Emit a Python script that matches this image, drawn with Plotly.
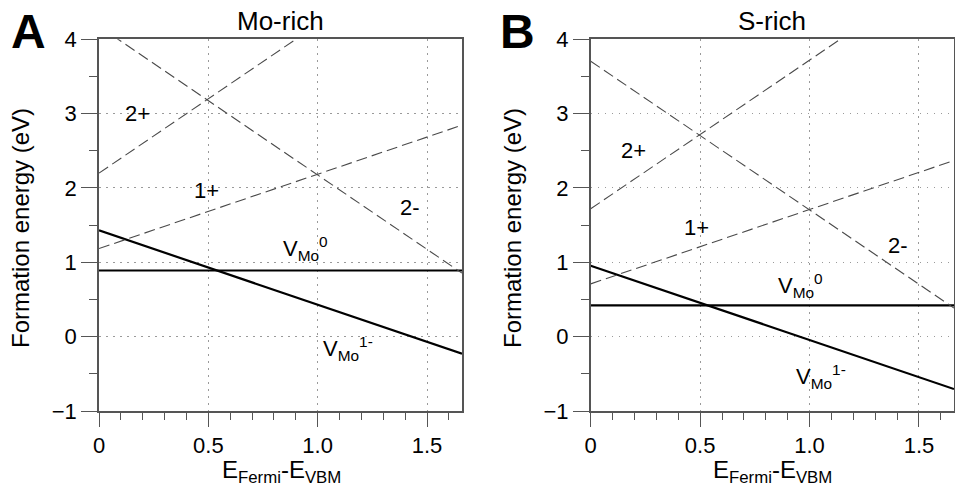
import plotly.graph_objects as go

# Fermi level range (band gap) and defect charge states
band_gap = 1.66
charges = [0, -1, 1, 2, -2]
is_main = [True, True, False, False, False]

# Formation energy at E_Fermi = E_VBM for each charge state (eV)
e0_mo_rich = [0.89, 1.43, 1.185, 2.20, 4.175]
e0_s_rich = [0.42, 0.955, 0.71, 1.72, 3.705]

panel_titles = ["Mo-rich", "S-rich"]
panel_letters = ["A", "B"]

x_tickvals = [0, 0.5, 1.0, 1.5]
x_ticktext = ["0", "0.5", "1.0", "1.5"]
y_tickvals = [-1, 0, 1, 2, 3, 4]
y_ticktext = ["\u22121", "0", "1", "2", "3", "4"]

# Charge-state labels: (text, x, y) in data units for each panel
labels_mo = [("2+", 0.176, 3.0), ("1+", 0.493, 1.96), ("2-", 1.424, 1.737),
             ("V<sub>Mo</sub><sup>0</sup>", 0.943, 1.19),
             ("V<sub>Mo</sub><sup>1-</sup>", 1.14, -0.157)]
labels_s = [("2+", 0.194, 2.50), ("1+", 0.485, 1.468), ("2-", 1.406, 1.226),
            ("V<sub>Mo</sub><sup>0</sup>", 0.957, 0.684),
            ("V<sub>Mo</sub><sup>1-</sup>", 1.05, -0.535)]

FONT = "Liberation Sans, Arial, Helvetica, sans-serif"
W, H = 955, 489

fig = go.Figure()

x_dom = [[99 / W, 462 / W], [590.7 / W, 954 / W]]
y_dom = [1 - 411 / H, 1 - 39.3 / H]

for p, (e0s, labels) in enumerate([(e0_mo_rich, labels_mo), (e0_s_rich, labels_s)]):
    xa = "x" if p == 0 else "x2"
    ya = "y" if p == 0 else "y2"
    for q, e0, main in zip(charges, e0s, is_main):
        xs = [0, band_gap]
        ys = [e0, e0 + q * band_gap]
        fig.add_trace(go.Scatter(
            x=xs, y=ys, mode="lines", xaxis=xa, yaxis=ya, showlegend=False,
            hoverinfo="skip",
            line=dict(color="black" if main else "#4a4a4a",
                      width=2.2 if main else 1.1,
                      dash="solid" if main else "11px,5px"),
        ))
    for text, lx, ly in labels:
        fig.add_annotation(text=text, x=lx, y=ly, xref=xa, yref=ya,
                           showarrow=False, font=dict(size=22, color="black"),
                           xanchor="center", yanchor="middle")

axis_common = dict(
    showline=True, linecolor="#555555", linewidth=1.5, mirror=True,
    zeroline=False, showgrid=True, gridcolor="#9a9a9a", gridwidth=1,
    griddash="1.5px,5.5px", ticks="outside", tickcolor="#555555",
    tickwidth=1.3, tickfont=dict(size=22, color="black", family=FONT),
    automargin=False,
)

for p in range(2):
    sfx = "" if p == 0 else "2"
    fig.update_layout(**{
        "xaxis" + sfx: dict(
            axis_common, domain=x_dom[p], range=[0, band_gap],
            tickvals=x_tickvals, ticktext=x_ticktext, ticklen=14,
            minor=dict(dtick=0.1, tick0=0, ticklen=7, ticks="outside",
                       tickcolor="#555555", tickwidth=1.3, showgrid=False),
            anchor="y" + sfx,
        ),
        "yaxis" + sfx: dict(
            axis_common, domain=y_dom, range=[-1, 4],
            tickvals=y_tickvals, ticktext=y_ticktext, ticklen=16,
            minor=dict(dtick=0.5, tick0=0, ticklen=8, ticks="outside",
                       tickcolor="#555555", tickwidth=1.3, showgrid=False),
            anchor="x" + sfx,
        ),
    })

# Panel titles, letters and axis titles
title_x = [280 / W, 772 / W]
letter_x = [28 / W, 517 / W]
ytitle_x = [20 / W, 512 / W]
xtitle_x = [281 / W, 772.5 / W]
for p in range(2):
    fig.add_annotation(text=panel_titles[p], x=title_x[p], y=1 - 20.5 / H,
                       xref="paper", yref="paper", showarrow=False,
                       font=dict(size=26, color="black"),
                       xanchor="center", yanchor="middle")
    fig.add_annotation(text="<b>" + panel_letters[p] + "</b>", x=letter_x[p],
                       y=1 - 32 / H, xref="paper", yref="paper", showarrow=False,
                       font=dict(size=48, color="black"),
                       xanchor="center", yanchor="middle")
    fig.add_annotation(text="Formation energy (eV)", x=ytitle_x[p],
                       y=1 - 228 / H, xref="paper", yref="paper",
                       showarrow=False, textangle=-90,
                       font=dict(size=24, color="black"),
                       xanchor="center", yanchor="middle")
    fig.add_annotation(text="E<sub>Fermi</sub>-E<sub>VBM</sub>", x=xtitle_x[p],
                       y=1 - 471 / H, xref="paper", yref="paper",
                       showarrow=False, font=dict(size=24, color="black"),
                       xanchor="center", yanchor="middle")

fig.update_layout(
    width=W, height=H, margin=dict(l=0, r=0, t=0, b=0),
    paper_bgcolor="white", plot_bgcolor="white",
    font=dict(family=FONT, color="black"),
)

fig.write_html("out.html")
